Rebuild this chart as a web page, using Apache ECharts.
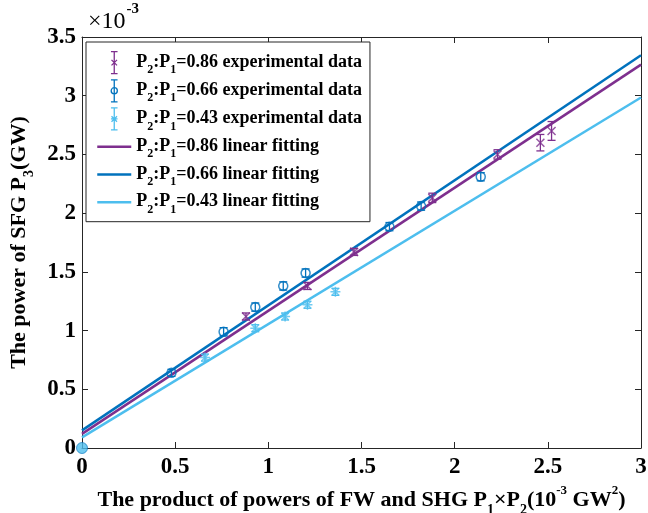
<!DOCTYPE html>
<html>
<head>
<meta charset="utf-8">
<script src="https://cdn.jsdelivr.net/npm/echarts@6/dist/echarts.min.js"></script>
<style>html,body{margin:0;padding:0;background:#fff;}#c{width:648px;height:513px;}</style>
</head>
<body>
<div id="c"></div>
<script>
// ---- data (x in 1e-3 GW^2, y in 1e-3 GW) ----
const xTicks = [0, 0.5, 1, 1.5, 2, 2.5, 3];
const yTicks = [0, 0.5, 1, 1.5, 2, 2.5, 3, 3.5];
// [x, y, error]
const exp086 = [[0.88,1.12,0.03],[1.21,1.38,0.03],[1.46,1.67,0.03],[1.88,2.13,0.04],[2.23,2.50,0.04],[2.46,2.60,0.07],[2.52,2.70,0.08]];
const exp066 = [[0.48,0.64,0.03],[0.76,0.99,0.035],[0.93,1.20,0.035],[1.08,1.38,0.035],[1.20,1.49,0.035],[1.65,1.885,0.035],[1.82,2.06,0.035],[2.14,2.31,0.035]];
const exp043 = [[0.66,0.77,0.03],[0.93,1.02,0.03],[1.09,1.12,0.03],[1.21,1.22,0.03],[1.36,1.33,0.03]];
const originPoint = [[0, 0]];
// fitted lines: endpoints [x, y]
const fit086 = [[0, 0.12],[3, 3.265]];
const fit066 = [[0, 0.15],[3, 3.345]];
const fit043 = [[0, 0.09],[3, 2.985]];
const names = ['0.86','0.66','0.43'];

const cPurple = '#7E2F8E', cBlue = '#0072BD', cLight = '#4DBEEE';
const FF = '"Liberation Serif", "DejaVu Serif", serif';

function errRender(color){
  return function(params, api){
    const x = api.value(0), y = api.value(1), e = api.value(2);
    const t = api.coord([x, y + e]), b = api.coord([x, y - e]);
    const w = 4;
    const st = {stroke: color, lineWidth: 1.3};
    return {type:'group', children:[
      {type:'line', shape:{x1:t[0],y1:t[1],x2:b[0],y2:b[1]}, style:st},
      {type:'line', shape:{x1:t[0]-w,y1:t[1],x2:t[0]+w,y2:t[1]}, style:st},
      {type:'line', shape:{x1:b[0]-w,y1:b[1],x2:b[0]+w,y2:b[1]}, style:st}
    ]};
  };
}
const symX = 'path://M0,0L10,10M10,0L0,10';
const symStar = 'path://M5,0L5,10M0,5L10,5M1.5,1.5L8.5,8.5M8.5,1.5L1.5,8.5';
const iconBar = 'M0,0L6,0M3,0L3,20M0,20L6,20';
const iconX = 'path://' + iconBar + 'M0.5,7.5L5.5,12.5M5.5,7.5L0.5,12.5';
const iconO = 'path://' + iconBar + 'M5.8,10A2.8,2.8 0 1 1 0.2,10A2.8,2.8 0 1 1 5.8,10';
const iconS = 'path://' + iconBar + 'M0.5,7.5L5.5,12.5M5.5,7.5L0.5,12.5M0,10L6,10';
const iconLine = 'path://M0,10L34,10M0,0L0,0M0,20L0,20';

const expNames = names.map(n => 'P2:P1=' + n + ' experimental data');
const fitNames = names.map(n => 'P2:P1=' + n + ' linear fitting');

function expSeries(name, data, color, sym, size){
  return [
    {name: name, type:'custom', renderItem: errRender(color), data: data, encode:{x:0,y:1},
     itemStyle:{color: color}, z: 3, clip: false},
    {name: name, type:'scatter', data: data.map(d => [d[0], d[1]]), symbol: sym, symbolSize: size,
     itemStyle:{color:'transparent', borderColor: color, borderWidth: 1.5}, z: 4, clip: false}
  ];
}
function fitSeries(name, data, color){
  return {name: name, type:'line', data: data, symbol:'none', lineStyle:{color: color, width: 2.5},
          itemStyle:{color: color}, z: 2};
}

const axisLineStyle = {color:'#262626', width:1};
const labelStyle = {fontFamily: FF, fontWeight:'bold', fontSize: 23, color:'#000'};
const nameRich = {
  n: {fontFamily: FF, fontWeight:'bold', fontSize: 22, lineHeight: 24, color:'#000', verticalAlign:'top', padding:[5,0,0,0]},
  s: {fontFamily: FF, fontWeight:'bold', fontSize: 14, lineHeight: 14, color:'#000', verticalAlign:'top', padding:[19,0,0,0]},
  u: {fontFamily: FF, fontWeight:'bold', fontSize: 13, lineHeight: 13, color:'#000', verticalAlign:'top', padding:[0,0,0,0]}
};
const legRich = {
  n: {fontFamily: FF, fontWeight:'bold', fontSize: 18, lineHeight: 19, color:'#000', verticalAlign:'top', padding:[0,0,0,0]},
  s: {fontFamily: FF, fontWeight:'bold', fontSize: 12, lineHeight: 12, color:'#000', verticalAlign:'top', padding:[11,0,0,0]}
};

const chart = echarts.init(document.getElementById('c'), null, {renderer:'canvas'});
chart.setOption({
  animation: false,
  backgroundColor: '#fff',
  grid: {left: 82, right: 7, top: 37, bottom: 65, containLabel: false, outerBoundsMode: 'none'},
  xAxis: [
    {type:'value', min: xTicks[0], max: xTicks[xTicks.length-1], interval: xTicks[1]-xTicks[0],
     axisLine:{show:true, onZero:false, lineStyle: axisLineStyle},
     axisTick:{show:true, inside:true, length:6, lineStyle: axisLineStyle},
     axisLabel:Object.assign({margin: 8}, labelStyle), splitLine:{show:false},
     name: '{n|The product of powers of FW and SHG P}{s|1}{n|×P}{s|2}{n|(10}{u|-3}{n| GW}{u|2}{n|)}',
     nameLocation:'middle', nameGap: 21, nameTextStyle:{rich: nameRich}},
    {type:'value', position:'top', min: xTicks[0], max: xTicks[xTicks.length-1], interval: xTicks[1]-xTicks[0],
     axisLine:{show:true, onZero:false, lineStyle: axisLineStyle},
     axisTick:{show:true, inside:true, length:6, lineStyle: axisLineStyle},
     axisLabel:{show:false}, splitLine:{show:false}}
  ],
  yAxis: [
    {type:'value', min: yTicks[0], max: yTicks[yTicks.length-1], interval: yTicks[1]-yTicks[0],
     axisLine:{show:true, onZero:false, lineStyle: axisLineStyle},
     axisTick:{show:true, inside:true, length:6, lineStyle: axisLineStyle},
     axisLabel:Object.assign({margin: 6}, labelStyle), splitLine:{show:false},
     name: '{n|The power of SFG P}{s|3}{n|(GW)}',
     nameLocation:'middle', nameGap: 43, nameRotate: 90, nameTextStyle:{rich: nameRich}},
    {type:'value', position:'right', min: yTicks[0], max: yTicks[yTicks.length-1], interval: yTicks[1]-yTicks[0],
     axisLine:{show:true, onZero:false, lineStyle: axisLineStyle},
     axisTick:{show:true, inside:true, length:6, lineStyle: axisLineStyle},
     axisLabel:{show:false}, splitLine:{show:false}}
  ],
  legend: {
    orient:'vertical', left: 86, top: 42, padding:[9, 8, 6, 10], itemGap: 3,
    itemWidth: 34, itemHeight: 22, borderColor:'#262626', borderWidth: 1, backgroundColor:'#fff',
    selectedMode: false,
    textStyle: {fontFamily: FF, fontWeight:'bold', fontSize: 18, color:'#000', rich: legRich},
    formatter: function(name){
      const rest = name.replace('P2:P1', '');
      return '{n|P}{s|2}{n|:P}{s|1}{n|' + rest + '}';
    },
    data: [
      {name: expNames[0], icon: iconX, itemStyle:{color:'transparent', borderColor:cPurple, borderWidth:1.3}},
      {name: expNames[1], icon: iconO, itemStyle:{color:'transparent', borderColor:cBlue, borderWidth:1.3}},
      {name: expNames[2], icon: iconS, itemStyle:{color:'transparent', borderColor:cLight, borderWidth:1.3}},
      {name: fitNames[0], icon: iconLine, itemStyle:{color:'transparent', borderColor:cPurple, borderWidth:2.5}},
      {name: fitNames[1], icon: iconLine, itemStyle:{color:'transparent', borderColor:cBlue, borderWidth:2.5}},
      {name: fitNames[2], icon: iconLine, itemStyle:{color:'transparent', borderColor:cLight, borderWidth:2.5}}
    ]
  },
  graphic: [
    {type:'text', left: 88, top: 2, style:{
      text: '{a|×10}{b|-3}',
      rich: {
        a: {fontFamily: FF, fontSize: 24, lineHeight: 26, color:'#000', verticalAlign:'top', padding:[8,0,0,0]},
        b: {fontFamily: FF, fontWeight:'bold', fontSize: 15, lineHeight: 15, color:'#000', verticalAlign:'top', padding:[0,0,0,1]}
      }}}
  ],
  series: [].concat(
    expSeries(expNames[0], exp086, cPurple, symX, 8),
    expSeries(expNames[1], exp066, cBlue, 'circle', 9),
    expSeries(expNames[2], exp043, cLight, symStar, 10),
    [fitSeries(fitNames[0], fit086, cPurple),
     fitSeries(fitNames[1], fit066, cBlue),
     fitSeries(fitNames[2], fit043, cLight),
     {name:'origin', type:'scatter', data: originPoint, symbol:'circle', symbolSize: 11,
      itemStyle:{color: cLight, borderColor: cBlue, borderWidth: 0.8}, z: 5, clip:false}]
  )
});
</script>
</body>
</html>
